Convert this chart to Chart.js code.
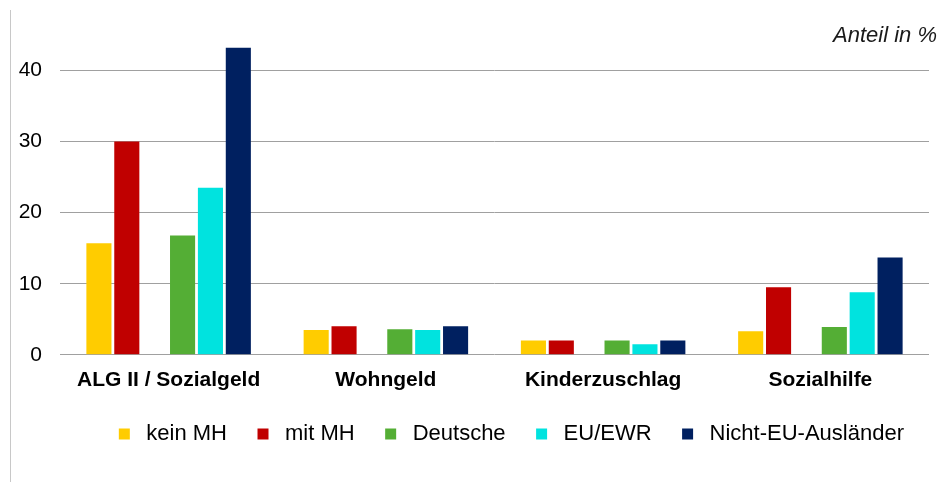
<!DOCTYPE html>
<html lang="de">
<head>
<meta charset="utf-8">
<script src="https://cdn.jsdelivr.net/npm/chart.js@4"></script>
<style>
  html, body { margin: 0; padding: 0; background: #fff; }
  #wrap { position: relative; width: 942px; height: 482px; }
  #frame { position: absolute; left: 10px; top: 10px; height: 472px; border-left: 1px solid #c8c8c8; }
</style>
</head>
<body>
<div id="wrap">
  <div id="frame"></div>
  <canvas id="benefitChart" width="942" height="482"></canvas>
</div>
<script>
// Leistungsbezug nach Migrationshintergrund / Staatsangehoerigkeit, Anteil in %
const categories = ["ALG II / Sozialgeld", "Wohngeld", "Kinderzuschlag", "Sozialhilfe"];

const keinMH = [15.7, 3.5, 2.0, 3.3];
const mitMH = [30.0, 4.0, 2.0, 9.5];
const deutsche = [16.8, 3.6, 2.0, 3.9];
const euEwr = [23.5, 3.5, 1.5, 8.8];
const nichtEU = [43.2, 4.0, 2.0, 13.7];

const yTicks = [0, 10, 20, 30, 40];

const FONT = "'Liberation Sans', Arial, sans-serif";

// small plugin for the unit note in the top right corner
const unitNote = {
  id: "unitNote",
  afterDraw(chart) {
    const ctx = chart.ctx;
    ctx.save();
    ctx.font = "italic 22px " + FONT;
    ctx.fillStyle = "#1a1a1a";
    ctx.textAlign = "right";
    ctx.textBaseline = "alphabetic";
    ctx.fillText("Anteil in %", 937, 42);
    ctx.restore();
  },
};

function bars(label, data, color) {
  return { label, data, backgroundColor: color, borderWidth: 0, pointStyle: "rect" };
}

function initChart() {
  const ctx = document.getElementById("benefitChart").getContext("2d");
  new Chart(ctx, {
    type: "bar",
    data: {
      labels: categories,
      datasets: [
        bars("kein MH", keinMH, "#FFCC00"),
        bars("mit MH", mitMH, "#C00000"),
        // empty slot for the gap between the two groups of bars
        bars("", categories.map(() => null), "rgba(0,0,0,0)"),
        bars("Deutsche", deutsche, "#54AE35"),
        bars("EU/EWR", euEwr, "#00E3DF"),
        bars("Nicht-EU-Ausländer", nichtEU, "#002060"),
      ],
    },
    options: {
      responsive: false,
      animation: false,
      datasets: {
        bar: { barPercentage: 0.9, categoryPercentage: 0.77 },
      },
      layout: { padding: { top: 35, right: 13, left: 0, bottom: 27 } },
      scales: {
        x: {
          grid: { display: false },
          border: { display: false },
          ticks: {
            color: "#000",
            padding: 5,
            font: { family: FONT, size: 21, weight: "bold" },
          },
        },
        y: {
          min: 0,
          max: 45,
          afterBuildTicks: (scale) => {
            scale.ticks = yTicks.map((v) => ({ value: v }));
          },
          afterFit: (scale) => {
            scale.width = 60;
          },
          grid: { color: "#a0a0a0", lineWidth: 1, drawTicks: false },
          border: { display: false },
          ticks: {
            color: "#000",
            padding: 18,
            font: { family: FONT, size: 21 },
          },
        },
      },
      plugins: {
        legend: {
          position: "bottom",
          align: "end",
          maxWidth: 923,
          labels: {
            filter: (item) => item.text !== "",
            usePointStyle: true,
            boxHeight: 11,
            padding: 25,
            color: "#000",
            font: { family: FONT, size: 22 },
          },
        },
        tooltip: { enabled: false },
      },
    },
    plugins: [unitNote],
  });
}

document.addEventListener("DOMContentLoaded", () => {
  initChart();
});
</script>
</body>
</html>
